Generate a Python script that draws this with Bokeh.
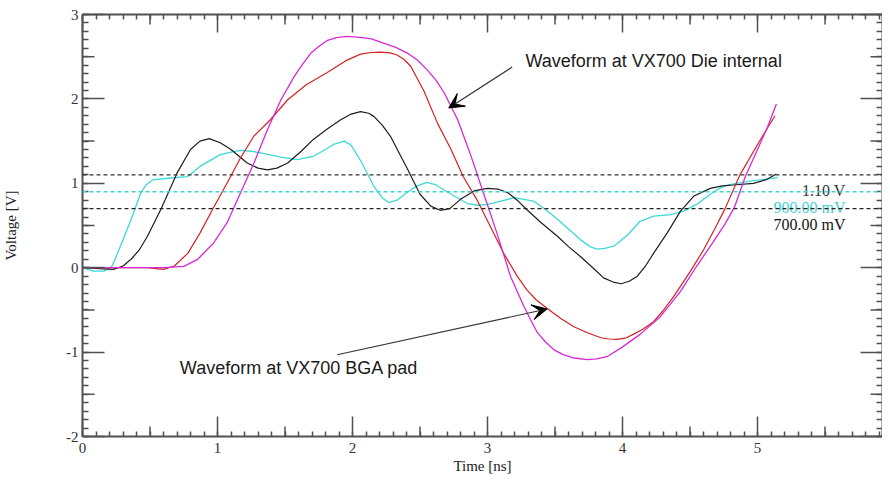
import math
from bokeh.plotting import figure
from bokeh.models import FixedTicker, LinearAxis, Range1d, Span, Label, Arrow, VeeHead
from bokeh.embed import file_html
from bokeh.resources import INLINE

# ---- data (time in ns, voltage in V) ----
black_t = [0, 0.12, 0.23, 0.30, 0.36, 0.42, 0.48, 0.58, 0.70, 0.80, 0.87, 0.94, 1.02, 1.10, 1.22, 1.30, 1.37,
           1.44, 1.52, 1.62, 1.71, 1.81, 1.91, 1.99, 2.06, 2.12, 2.16, 2.22, 2.28, 2.41, 2.50, 2.58, 2.65, 2.72, 2.80,
           2.90, 3.00, 3.08, 3.15, 3.22, 3.29, 3.40, 3.52, 3.60, 3.69, 3.78, 3.86, 3.93, 3.99, 4.05, 4.11, 4.17, 4.23, 4.33, 4.43,
           4.53, 4.65, 4.74, 4.82, 4.97, 5.06, 5.14]
black_v = [0, -0.01, -0.02, 0.02, 0.10, 0.21, 0.37, 0.69, 1.12, 1.40, 1.50, 1.53, 1.48, 1.40, 1.24, 1.18, 1.16,
           1.18, 1.24, 1.38, 1.52, 1.64, 1.75, 1.82, 1.85, 1.83, 1.79, 1.69, 1.56, 1.16, 0.87, 0.73, 0.68, 0.70, 0.81,
           0.91, 0.94, 0.93, 0.89, 0.80, 0.69, 0.53, 0.37, 0.25, 0.13, 0.00, -0.12, -0.17, -0.19, -0.16, -0.10, 0.02, 0.17, 0.41, 0.67,
           0.85, 0.94, 0.97, 0.98, 1.00, 1.04, 1.11]

cyan_t = [0, 0.08, 0.16, 0.22, 0.28, 0.36, 0.43, 0.47, 0.52, 0.63, 0.78, 0.87, 1.02, 1.10, 1.17, 1.25, 1.32, 1.47,
          1.59, 1.71, 1.80, 1.86, 1.94, 1.99, 2.06, 2.16, 2.22, 2.27, 2.33, 2.41, 2.48, 2.55, 2.62, 2.70, 2.85, 2.93, 3.00,
          3.10, 3.20, 3.34, 3.43, 3.52, 3.69, 3.76, 3.81, 3.87, 3.94, 4.04, 4.13, 4.23, 4.36, 4.45, 4.55, 4.65, 4.72, 4.78,
          4.85, 4.92, 5.07, 5.15]
cyan_v = [0, -0.04, -0.04, 0.02, 0.25, 0.57, 0.88, 0.98, 1.04, 1.06, 1.08, 1.20, 1.34, 1.37, 1.39, 1.38, 1.36, 1.31,
          1.28, 1.32, 1.40, 1.46, 1.50, 1.45, 1.27, 0.96, 0.83, 0.77, 0.80, 0.90, 0.97, 1.01, 0.98, 0.90, 0.76, 0.74, 0.75,
          0.79, 0.83, 0.79, 0.69, 0.57, 0.33, 0.25, 0.22, 0.23, 0.26, 0.39, 0.55, 0.61, 0.63, 0.67, 0.75, 0.87, 0.94, 0.98,
          1.00, 1.02, 1.05, 1.07]

red_t = [0, 0.48, 0.60, 0.68, 0.78, 0.87, 0.97, 1.07, 1.17, 1.27, 1.39, 1.52, 1.66, 1.81, 1.96,
         2.06, 2.14, 2.21, 2.28, 2.33, 2.38, 2.43, 2.53, 2.63, 2.73, 2.82, 2.92, 3.02, 3.12, 3.22, 3.29, 3.36, 3.44, 3.54, 3.64,
         3.74, 3.84, 3.90, 3.96, 4.02, 4.08, 4.15, 4.23, 4.30, 4.38, 4.50, 4.60, 4.68, 4.76, 4.87, 4.99, 5.06, 5.13]
red_v = [0, 0, -0.02, 0.02, 0.17, 0.41, 0.71, 1.00, 1.30, 1.56, 1.75, 1.99, 2.17, 2.31, 2.46,
         2.53, 2.55, 2.555, 2.545, 2.52, 2.47, 2.39, 2.09, 1.71, 1.40, 1.08, 0.81, 0.49, 0.17, -0.10, -0.26, -0.38, -0.48, -0.60, -0.70,
         -0.77, -0.83, -0.845, -0.85, -0.835, -0.79, -0.73, -0.64, -0.51, -0.34, -0.05, 0.21, 0.45, 0.70, 1.10, 1.43, 1.62, 1.80]

mag_t = [0, 0.60, 0.75, 0.85, 0.97, 1.07, 1.17, 1.27, 1.37, 1.47, 1.57, 1.63, 1.69, 1.75, 1.81, 1.88, 1.96, 2.06, 2.14,
         2.23, 2.32, 2.41, 2.48, 2.55, 2.62, 2.68, 2.78, 2.87, 2.97, 3.07, 3.17, 3.27, 3.32, 3.37, 3.43, 3.49, 3.56, 3.64, 3.74, 3.81, 3.89,
         3.99, 4.13, 4.28, 4.43, 4.55, 4.67, 4.76, 4.83, 4.91, 5.00, 5.07, 5.14]
mag_v = [0, 0, 0.015, 0.095, 0.29, 0.53, 0.885, 1.24, 1.635, 1.99, 2.27, 2.41, 2.54, 2.62, 2.69, 2.725, 2.74, 2.73, 2.71,
         2.66, 2.61, 2.54, 2.46, 2.35, 2.22, 2.07, 1.75, 1.36, 0.885, 0.41, -0.10, -0.46, -0.62, -0.77, -0.88, -0.97, -1.03, -1.07, -1.09, -1.08, -1.05,
         -0.95, -0.79, -0.58, -0.28, 0.02, 0.30, 0.52, 0.72, 1.08, 1.40, 1.65, 1.94]

thresholds = [1.10, 0.90, 0.70]
threshold_labels = ["1.10 V", "900.00 mV", "700.00 mV"]

x_major = [0, 1, 2, 3, 4, 5, 6]
x_tick_labels = ["0", "1", "2", "3", "4", "5", "6"]
x_half = [0.5, 1.5, 2.5, 3.5, 4.5, 5.5]
x_minor = [i / 10 for i in range(0, 61)]
y_major = [-2, -1, 0, 1, 2, 3]
y_tick_labels = ["-2", "-1", "0", "1", "2", "3"]
y_half = [-1.5, -0.5, 0.5, 1.5, 2.5]
y_minor = [i / 10 for i in range(-20, 31)]

# ---- styles ----
AX = "#505050"
BLACK = "#1e1e1e"
CYAN = "#3dd8d8"
RED = "#d42222"
MAG = "#d62ad6"
SERIF = "Liberation Serif"
SANS = "Liberation Sans"

XMAX = 800 / 135.0

p = figure(frame_width=800, frame_height=422, output_backend="svg", toolbar_location=None,
           x_range=Range1d(0, XMAX), y_range=Range1d(-2, 3),
           x_axis_location=None, y_axis_location=None,
           min_border_left=0, min_border_right=0, min_border_top=14, min_border_bottom=0)
p.outline_line_color = None
p.background_fill_color = "white"
p.border_fill_color = "white"
p.xgrid.visible = False
p.ygrid.visible = False


def styled_axis(major, minor, tin, mtin, labels, **kw):
    ax = LinearAxis(ticker=FixedTicker(ticks=major, minor_ticks=minor), **kw)
    ax.major_tick_in = tin
    ax.major_tick_out = 0
    ax.minor_tick_in = mtin
    ax.minor_tick_out = 0
    ax.axis_line_color = AX
    ax.axis_line_width = 2
    ax.major_tick_line_color = AX
    ax.major_tick_line_width = 1.5
    ax.minor_tick_line_color = AX
    ax.minor_tick_line_width = 1.5
    if labels:
        ax.major_label_overrides = dict(zip(major, labels))
        ax.major_label_text_font = SERIF
        ax.major_label_text_font_size = "15px"
        ax.major_label_text_color = "#333333"
        ax.major_label_standoff = 5
        ax.axis_label_text_font = SERIF
        ax.axis_label_text_font_size = "15px"
        ax.axis_label_text_font_style = "normal"
        ax.axis_label_text_color = "#222222"
    else:
        ax.major_label_text_font_size = "1px"
        ax.major_label_text_color = None
        ax.major_label_standoff = 0
    return ax


bottom = styled_axis(x_major, x_minor, 20, 5, x_tick_labels, axis_label="Time [ns]")
bottom.major_label_standoff = 6
bottom.axis_label_standoff = 2
left = styled_axis(y_major, y_minor, 22, 6, y_tick_labels, axis_label="Voltage [V]")
left.major_label_standoff = 4
left.axis_label_standoff = 44
top = styled_axis(x_major, x_minor, 18, 5, None)
right = styled_axis(y_major, y_minor, 22, 6, None)
p.add_layout(bottom, "below")
p.add_layout(left, "left")
p.add_layout(top, "above")
p.add_layout(right, "right")

# medium ticks at the half units, on all four sides
p.ray(x=x_half, y=[-2] * len(x_half), length=10, length_units="screen", angle=math.pi / 2,
      line_color=AX, line_width=1.5)
p.ray(x=x_half, y=[3] * len(x_half), length=10, length_units="screen", angle=-math.pi / 2,
      line_color=AX, line_width=1.5)
p.ray(x=[0] * len(y_half), y=y_half, length=12, length_units="screen", angle=0,
      line_color=AX, line_width=1.5)
p.ray(x=[XMAX] * len(y_half), y=y_half, length=12, length_units="screen", angle=math.pi,
      line_color=AX, line_width=1.5)

# threshold lines
th_colors = ["#333333", "#40d2d2", "#222222"]
th_text_colors = ["#333333", "#40d2d2", "#111111"]
for v, lab, c, tc in zip(thresholds, threshold_labels, th_colors, th_text_colors):
    p.add_layout(Span(location=v, dimension="width", line_color=c, line_dash="4 3", line_width=1.3))
    p.add_layout(Label(x=5.652, y=v, text=lab, text_align="right", text_baseline="middle",
                       y_offset=-16, text_font=SERIF, text_font_size="16px", text_color=tc))

# waveforms
p.line(cyan_t, cyan_v, line_color=CYAN, line_width=1.3)
p.line(black_t, black_v, line_color=BLACK, line_width=1.2)
p.line(red_t, red_v, line_color=RED, line_width=1.2)
p.line(mag_t, mag_v, line_color=MAG, line_width=1.3)

# annotations
p.add_layout(Arrow(end=VeeHead(size=15, fill_color="black", line_color="black"),
                   x_start=3.183, y_start=2.378, x_end=2.713, y_end=1.892,
                   line_color="#333333", line_width=1.2))
p.add_layout(Arrow(end=VeeHead(size=15, fill_color="black", line_color="black"),
                   x_start=1.887, y_start=-1.031, x_end=3.442, y_end=-0.489,
                   line_color="#333333", line_width=1.2))
p.add_layout(Label(x=3.281, y=2.453, text="Waveform at VX700 Die internal", text_align="left",
                   text_baseline="middle", text_font=SANS, text_font_size="18px",
                   text_color="#1a1a1a"))
p.add_layout(Label(x=0.721, y=-1.185, text="Waveform at VX700 BGA pad", text_align="left",
                   text_baseline="middle", text_font=SANS, text_font_size="18px",
                   text_color="#1a1a1a"))

open("out.html", "w").write(file_html(p, INLINE))
